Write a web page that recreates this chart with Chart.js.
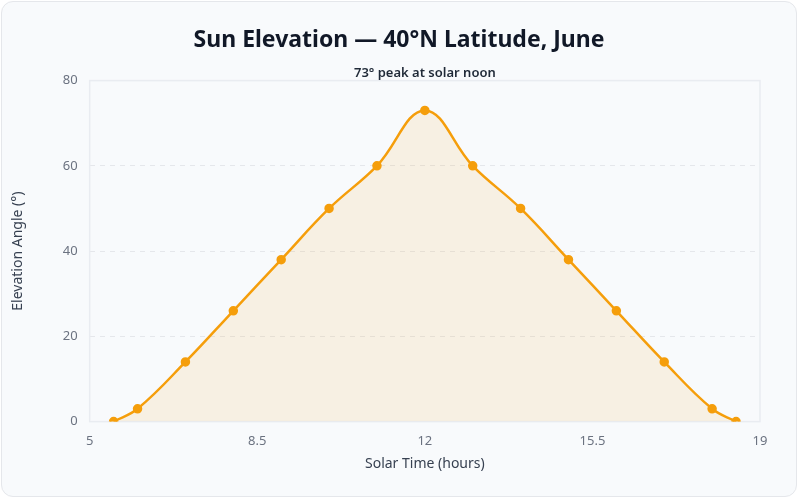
<!DOCTYPE html>
<html>
<head>
<meta charset="utf-8">
<title>Sun Elevation</title>
<script src="https://cdn.jsdelivr.net/npm/chart.js"></script>
<style>
  html, body { margin: 0; width: 800px; height: 500px; background: #ffffff; overflow: hidden; }
  .card { position: absolute; left: 1px; top: 1px; width: 796px; height: 496px; box-sizing: border-box;
          background: #f8fafc; border: 1px solid #e5e7eb; border-radius: 12px; padding: 12px 4px 20px 4px; }
  .card canvas { width: 100% !important; height: 100% !important; }
</style>
</head>
<body>
<div class="card"><canvas id="chart"></canvas></div>
<script>
// solar time (hours) and elevation angle (degrees)
const solarHours = [5.5, 6, 7, 8, 9, 10, 11, 12, 13, 14, 15, 16, 17, 18, 18.5];
const elevation = [0, 3, 14, 26, 38, 50, 60, 73, 60, 50, 38, 26, 14, 3, 0];
const xTickValues = [5, 8.5, 12, 15.5, 19];
const yTickValues = [0, 20, 40, 60, 80];
const peakHour = 12;
const peakNote = '73° peak at solar noon';

const FONT = "'Noto Sans', 'Open Sans', sans-serif";

const plotFrame = {
  id: 'plotFrame',
  afterLayout(chart) {
    // keep the title centred on the whole card, not the padded area
    const t = chart.titleBlock;
    if (t) { t.left = 0; t.right = chart.width; t.width = chart.width; }
  },
  beforeDatasetsDraw(chart) {
    const { ctx, chartArea: a } = chart;
    ctx.save();
    ctx.strokeStyle = '#e9ecf1';
    ctx.lineWidth = 1.5;
    ctx.strokeRect(a.left, a.top, a.right - a.left, a.bottom - a.top);
    ctx.restore();
  },
  afterDraw(chart) {
    const { ctx, chartArea: a } = chart;
    const x = chart.scales.x.getPixelForValue(peakHour);
    ctx.save();
    ctx.font = "600 13px " + FONT;
    ctx.fillStyle = '#1f2937';
    ctx.textAlign = 'center';
    ctx.textBaseline = 'bottom';
    ctx.fillText(peakNote, x, a.top - 1);
    ctx.restore();
  }
};

new Chart(document.getElementById('chart'), {
  type: 'line',
  data: {
    datasets: [{
      label: 'Elevation',
      data: solarHours.map((h, i) => ({ x: h, y: elevation[i] })),
      borderColor: '#f59e0b',
      backgroundColor: 'rgba(245, 158, 11, 0.1)',
      fill: 'origin',
      borderWidth: 2.5,
      tension: 0.4,
      pointRadius: 3.5,
      pointBackgroundColor: '#f59e0b',
      pointBorderColor: '#f59e0b'
    }]
  },
  options: {
    responsive: true,
    maintainAspectRatio: false,
    animation: false,
    layout: { padding: { top: 4, right: 32 } },
    plugins: {
      legend: { display: false },
      tooltip: { enabled: false },
      title: {
        display: true,
        text: 'Sun Elevation — 40°N Latitude, June',
        color: '#111827',
        font: { family: FONT, size: 23, weight: 'bold' },
        padding: { top: 9, bottom: 26 }
      }
    },
    scales: {
      x: {
        type: 'linear',
        min: 5,
        max: 19,
        afterBuildTicks: s => { s.ticks = xTickValues.map(v => ({ value: v })); },
        grid: { display: false },
        border: { display: false },
        ticks: { color: '#6b7280', font: { family: FONT, size: 13 }, padding: 4 },
        title: { display: true, text: 'Solar Time (hours)', color: '#374151', font: { family: FONT, size: 14 }, padding: { top: 2 } }
      },
      y: {
        min: 0,
        max: 80,
        afterBuildTicks: s => { s.ticks = yTickValues.map(v => ({ value: v })); },
        grid: { color: '#e5e7eb', tickLength: 0, drawTicks: false },
        border: { display: false, dash: [5, 5] },
        ticks: { color: '#6b7280', font: { family: FONT, size: 13 }, padding: 12 },
        title: { display: true, text: 'Elevation Angle (°)', color: '#374151', font: { family: FONT, size: 14 }, padding: { bottom: 24 } }
      }
    }
  },
  plugins: [plotFrame]
});
</script>
</body>
</html>
